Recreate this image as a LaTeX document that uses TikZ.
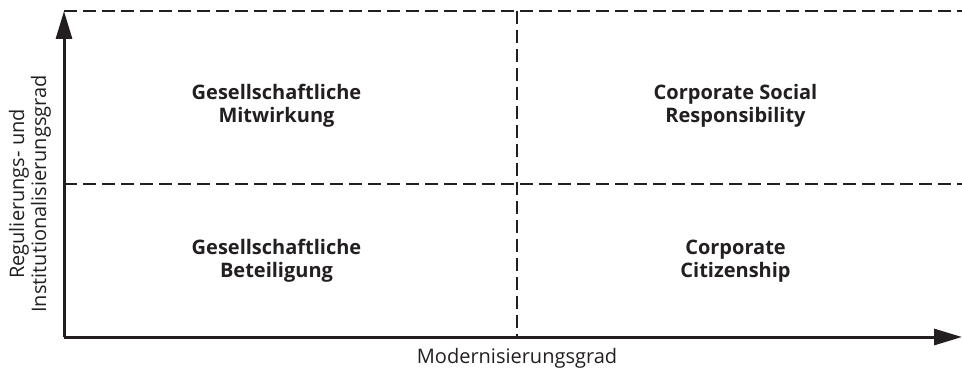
\documentclass[tikz,border=0pt]{standalone}
\usepackage{fontspec}
\setmainfont{Open Sans}
\usetikzlibrary{arrows.meta}
\definecolor{ink}{RGB}{35,31,32}

\begin{document}
\begin{tikzpicture}[x=0.5pt,y=0.5pt,ink,
        achse/.style={line width=1.5pt,-{Triangle[length=14pt,width=8pt]}},
        trenn/.style={line width=1.4pt,dash pattern=on 6.5pt off 3pt},
        feld/.style={align=center,font=\fontsize{10}{11.5}\selectfont\bfseries},
        titel/.style={align=center,font=\fontsize{10}{11}\selectfont}]
    \useasboundingbox (0,0) rectangle (962,369);
    \coordinate (o) at (64,32);
    \coordinate (oben) at (64,358);
    \coordinate (rechts) at (962,32);
    \coordinate (ol) at (64,358);   \coordinate (or) at (962,358);
    \coordinate (ml) at (64,185);   \coordinate (mr) at (962,185);
    \coordinate (mo) at (517,358);  \coordinate (mu) at (517,32);

    \node[feld] (mitwirkung)  at (276.5,263) {Gesellschaftliche\\Mitwirkung};
    \node[feld] (csr)         at (735.5,263) {Corporate Social\\Responsibility};
    \node[feld] (beteiligung) at (276.5,108) {Gesellschaftliche\\Beteiligung};
    \node[feld] (cc)          at (735.5,108) {Corporate\\Citizenship};

    \node[titel,anchor=base] (xlabel) at (517,6) {Modernisierungsgrad};
    \node[titel,rotate=90] (ylabel) at (30,175) {Regulierungs- und\\Institutionalisierungsgrad};

    \draw[trenn] (ol)--(or);
    \draw[trenn] (ml)--(mr);
    \draw[trenn] (mo)--(mu);

    \draw[achse] (o)--(oben);
    \draw[achse] (o)--(rechts);
\end{tikzpicture}
\end{document}
